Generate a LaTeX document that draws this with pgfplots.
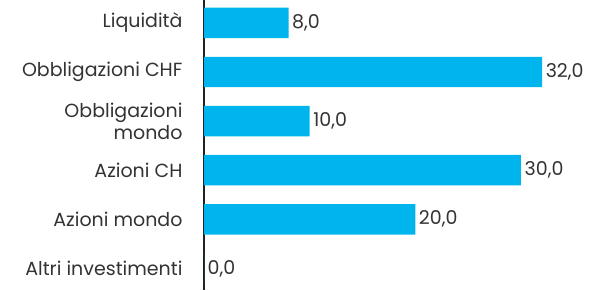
\documentclass[border=0pt]{standalone}
\usepackage{pgfplots}
\pgfplotsset{compat=1.18}
\usepackage{fontspec}
\setmainfont{Poppins}
\definecolor{barc}{HTML}{00B5EE}
\definecolor{txt}{HTML}{333333}
\definecolor{axc}{HTML}{222222}
\begin{document}
\begin{tikzpicture}
\path[use as bounding box] (0,0) rectangle (597pt,290pt);
\begin{axis}[
  at={(204pt,0pt)}, anchor=south west,
  scale only axis, width=393pt, height=290pt,
  xmin=0, xmax=37.2,
  ymin=-0.467, ymax=5.44, y dir=reverse,
  axis x line=none,
  axis y line*=left,
  y axis line style={draw=axc, line width=1.2pt, -},
  ytick={0,1,2,3,4,5},
  yticklabels={Liquidità,Obbligazioni CHF,{Obbligazioni\\mondo},Azioni CH,Azioni mondo,Altri investimenti},
  yticklabel style={align=right, font=\fontsize{19}{22}\selectfont, text=txt},
  major tick length=0pt,
  y tick label style={xshift=-18pt},
  xbar, bar width=0.62,
  nodes near coords,
  nodes near coords align={horizontal},
  every node near coord/.append style={font=\fontsize{19}{22}\selectfont, text=txt, inner sep=3.5pt,
     /pgf/number format/.cd, fixed, fixed zerofill, precision=1, use comma, assume math mode=true},
  /pgf/number format/assume math mode=true,
]
\addplot[draw=none, fill=barc] coordinates {(8,0) (32,1) (10,2) (30,3) (20,4) (0,5)};
\end{axis}
\end{tikzpicture}
\end{document}
